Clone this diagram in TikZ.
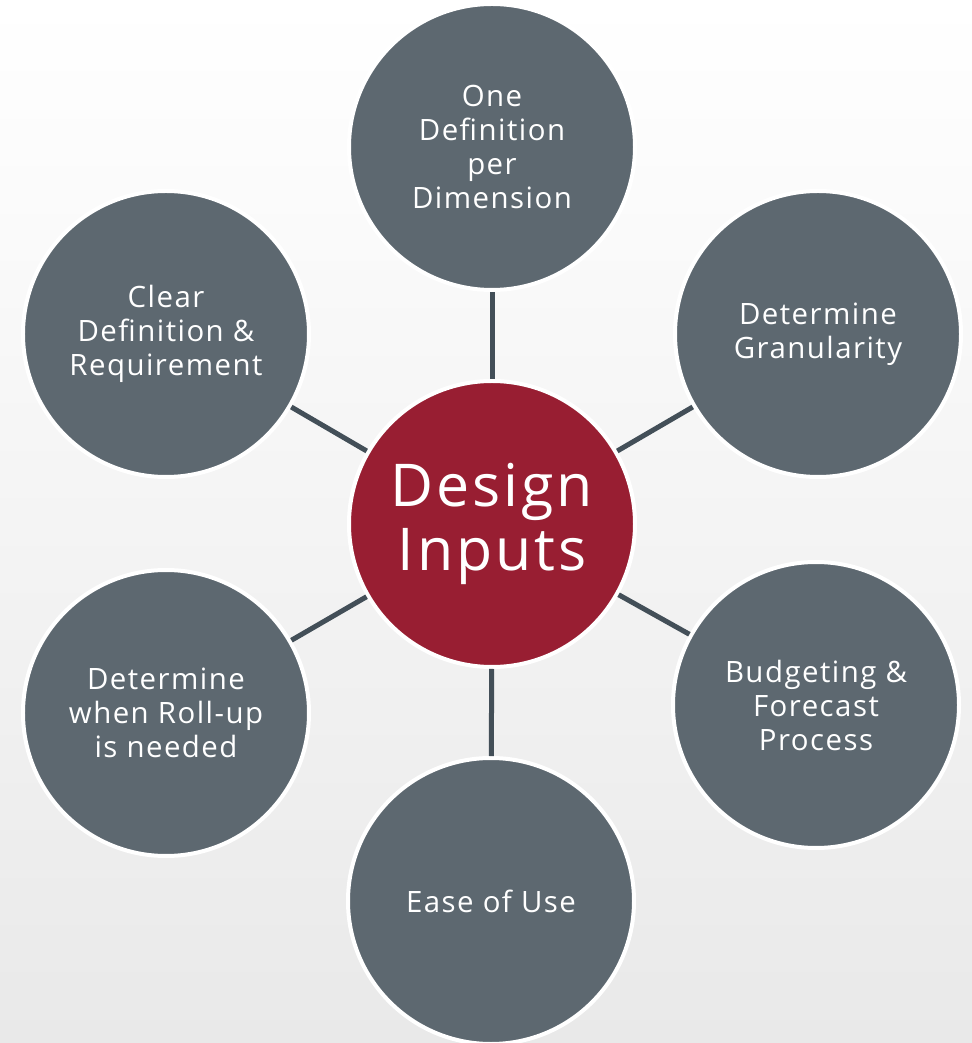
\documentclass[tikz,border=0pt]{standalone}
\usepackage{fontspec}
\setmainfont{Open Sans}[LetterSpace=5]

\definecolor{ardoise}{RGB}{93,104,112}
\definecolor{bordeaux}{RGB}{152,30,50}
\definecolor{trait}{RGB}{67,79,88}
\definecolor{fond}{RGB}{233,233,233}

\tikzset{
  bulle/.style={circle, fill=ardoise, draw=white, line width=2pt,
    minimum size=143pt, inner sep=0pt, text=white, align=center,
    font=\fontsize{14.7}{17}\selectfont},
  coeur/.style={bulle, fill=bordeaux, font=\fontsize{29.5}{32}\selectfont},
  lien/.style={draw=trait, line width=2.5pt}
}

\begin{document}
\begin{tikzpicture}[x=0.5pt,y=0.5pt]
\useasboundingbox (-492,-519) rectangle (480,524);
\fill[top color=white, bottom color=fond] (-492,-519) rectangle (480,524); %% le fond

%% le cercle du milieu
\node[coeur] (centre) at (0,0) {Design\\Inputs};

%% les six cercles autour
\node[bulle] (haut) at (0,377) {One\\Definition\\per\\Dimension};
\node[bulle] (hautdroite) at (326,190) {Determine\\Granularity};
\node[bulle] (basdroite) at (324,-181) {Budgeting \&\\Forecast\\Process};
\node[bulle] (bas) at (-1,-377) {Ease of Use};
\node[bulle] (basgauche) at (-326,-189) {Determine\\when Roll-up\\is needed};
\node[bulle] (hautgauche) at (-326,190) {Clear\\Definition \&\\Requirement};

%% les traits vers le centre
\foreach \n in {haut,hautdroite,basdroite,bas,basgauche,hautgauche}
  \draw[lien] (centre) -- (\n);

\end{tikzpicture}
\end{document}
